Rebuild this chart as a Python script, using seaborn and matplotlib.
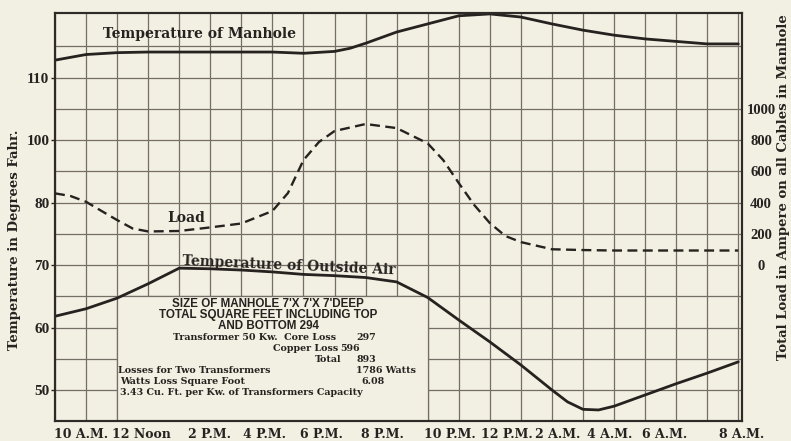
import numpy as np
import matplotlib
matplotlib.use("Agg")
import matplotlib.pyplot as plt
from matplotlib.patches import Rectangle
import seaborn as sns

# ---- data (hours counted from 10 A.M.) ----
hours_manhole = [0, 1, 2, 3, 4, 5, 6, 7, 8, 9, 9.5, 10, 11, 12, 13, 14, 15, 16, 17, 18, 19, 20, 21, 22]
temp_manhole = [112.8, 113.7, 114.0, 114.1, 114.1, 114.1, 114.1, 114.1, 113.9, 114.2, 114.7, 115.5,
                117.3, 118.6, 119.9, 120.2, 119.7, 118.6, 117.6, 116.8, 116.2, 115.8, 115.4, 115.4]

hours_air = [0, 1, 2, 3, 4, 5, 6, 7, 8, 9, 10, 11, 12, 13, 14, 15, 16, 16.5, 17, 17.5, 18, 19, 20, 21, 22]
temp_air = [61.8, 63.0, 64.7, 67.0, 69.5, 69.4, 69.2, 68.9, 68.5, 68.3, 68.0, 67.3, 64.8,
            61.2, 57.7, 54.0, 50.0, 48.1, 46.9, 46.8, 47.4, 49.2, 51.0, 52.7, 54.5]

hours_load = [0, 0.5, 1, 1.5, 2, 2.5, 3, 4, 5, 6, 7, 7.5, 8, 8.5, 9, 10, 11, 12, 12.5, 13, 13.5,
              14, 14.5, 15, 16, 17, 18, 19, 20, 21, 22]
load_amps = [459, 442, 405, 346, 288, 234, 215, 218, 241, 266, 346, 461, 672, 788, 858, 903, 877,
             779, 672, 525, 384, 269, 186, 147, 101, 96, 93, 93, 93, 93, 93]

time_labels = ["10 A.M.", "12 Noon", "2 P.M.", "4 P.M.", "6 P.M.", "8 P.M.",
               "10 P.M.", "12 P.M.", "2 A.M.", "4 A.M.", "6 A.M.", "8 A.M."]
# where each time caption is set along the bottom edge (hours)
time_label_pos = [0.83, 2.79, 4.97, 6.76, 8.59, 10.54, 12.72, 14.55, 16.18, 17.85, 19.64, 22.11]
temp_ticks = [50, 60, 70, 80, 100, 110]
temp_grid = [55, 65, 75, 90, 105, 115]
load_ticks = [0, 200, 400, 600, 800, 1000]

# ---- styling ----
bg = "#f2f0e2"
ink = "#262220"
grid_c = "#756e67"

sns.set_theme(style="white", rc={"axes.facecolor": bg, "figure.facecolor": bg,
                                 "savefig.facecolor": bg})
plt.rcParams["font.family"] = ["DejaVu Serif"]

serif_b = dict(family=["DejaVu Serif"], weight="bold")
num_font = dict(family=["Liberation Serif", "DejaVu Serif"], weight="bold")

fig = plt.figure(figsize=(7.91, 4.41), dpi=100)
ax = fig.add_axes([55 / 791, 1 - 420.7 / 441, 686.7 / 791, 407.4 / 441])
ax2 = ax.twinx()

# curves
sns.lineplot(x=hours_manhole, y=temp_manhole, ax=ax, color=ink, linewidth=2.0, zorder=3)
sns.lineplot(x=hours_air, y=temp_air, ax=ax, color=ink, linewidth=2.0, zorder=3)
sns.lineplot(x=hours_load, y=load_amps, ax=ax2, color=ink, linewidth=1.7, zorder=3)
ax2.lines[-1].set_dashes([4.2, 2.3])


# temperature scale: the 80-100 band is compressed to the same height as a 10 degree band
def _fwd(t):
    t = np.asarray(t, dtype=float)
    return np.where(t >= 100, t - 10, np.where(t >= 80, 80 + (t - 80) / 2, t))


def _inv(p):
    p = np.asarray(p, dtype=float)
    return np.where(p >= 90, p + 10, np.where(p >= 80, 80 + (p - 80) * 2, p))


ax.set_yscale("function", functions=(_fwd, _inv))
ax.set_ylim(45.08, 120.3)
ax.set_xlim(0, 22)
ax2.set_ylim((45.08 - 70) * 40, (110.3 - 70) * 40)

# hourly grid on minor ticks, captions on major ticks
ax.set_xticks(np.arange(0, 23, 1), minor=True)
ax.set_xticks(time_label_pos)
ax.set_xticklabels(time_labels, **serif_b, fontsize=9.0)
ax.set_yticks(temp_ticks)
ax.set_yticks(temp_grid, minor=True)
ax.set_yticklabels([str(v) for v in temp_ticks], **num_font, fontsize=11)
ax.tick_params(axis="x", which="both", length=0, pad=5, colors=ink)
ax.tick_params(axis="y", which="major", length=3, width=1, pad=1, colors=ink, left=True)
ax.tick_params(axis="y", which="minor", length=0)
ax.set_axisbelow(True)
ax.xaxis.grid(True, which="minor", color=grid_c, linewidth=0.9)
ax.xaxis.grid(False, which="major")
ax.yaxis.grid(True, which="both", color=grid_c, linewidth=0.9)

ax2.set_yticks(load_ticks)
ax2.set_yticklabels([str(v) for v in load_ticks], **num_font, fontsize=10.5)
for lab in ax2.get_yticklabels():
    lab.set_ha("center")
ax2.tick_params(axis="y", length=0, pad=14, colors=ink)
ax2.grid(False)

for a in (ax, ax2):
    for s in a.spines.values():
        s.set_color("#2e2a27")
        s.set_linewidth(1.5)
ax.set_xlabel("")
ax.set_ylabel("")
ax2.set_ylabel("")

# data table panel in the lower middle
ax.add_patch(Rectangle((2, 45.08), 10, 65 - 45.08, facecolor=bg, edgecolor=grid_c,
                       linewidth=0.9, zorder=1))

title_font = dict(family=["Liberation Sans Narrow", "Liberation Sans"], weight="bold",
                  fontsize=8.4, color=ink, ha="center", va="center", zorder=4)
ax.text(6.86, 63.75, "SIZE OF MANHOLE 7'X 7'X 7'DEEP", **title_font)
ax.text(6.86, 62.0, "TOTAL SQUARE FEET INCLUDING TOP", **title_font)
ax.text(6.86, 60.25, "AND BOTTOM 294", **title_font)

row_font = dict(family=["DejaVu Serif"], weight="bold", fontsize=6.8, color=ink,
                va="center", zorder=4)
ax.text(9.04, 58.4, "Transformer 50 Kw.  Core Loss", ha="right", **row_font)
ax.text(9.71, 58.4, "297", ha="left", **row_font)
ax.text(9.13, 56.6, "Copper Loss", ha="right", **row_font)
ax.text(9.2, 56.6, "596", ha="left", **row_font)
ax.text(9.23, 54.9, "Total", ha="right", **row_font)
ax.text(9.71, 54.9, "893", ha="left", **row_font)
ax.text(2.02, 53.1, "Losses for Two Transformers", ha="left", **row_font)
ax.text(9.68, 53.1, "1786 Watts", ha="left", **row_font)
ax.text(2.1, 51.3, "Watts Loss Square Foot", ha="left", **row_font)
ax.text(9.87, 51.3, "6.08", ha="left", **row_font)
ax.text(2.1, 49.55, "3.43 Cu. Ft. per Kw. of Transformers Capacity", ha="left", **row_font)

# curve names
ax.text(4.65, 117.0, "Temperature of Manhole", fontsize=10, color=ink, ha="center",
        va="center", zorder=4, **serif_b)
ax.text(4.23, 77.5, "Load", fontsize=10, color=ink, ha="center", va="center", zorder=4, **serif_b)
ax.text(7.53, 69.84, "Temperature of Outside Air", fontsize=10, color=ink, ha="center",
        va="center", rotation=-2.5, zorder=4, **serif_b)

# axis titles
fig.text(15 / 791, 1 - 240 / 441, "Temperature in Degrees Fahr.", rotation=90,
         ha="center", va="center", fontsize=9.5, color=ink, **serif_b)
fig.text(784 / 791, 1 - 187 / 441, "Total Load in Ampere on all Cables in Manhole",
         rotation=90, ha="center", va="center", fontsize=9.5, color=ink, **serif_b)

fig.savefig("out.png", dpi=100, facecolor=bg)
